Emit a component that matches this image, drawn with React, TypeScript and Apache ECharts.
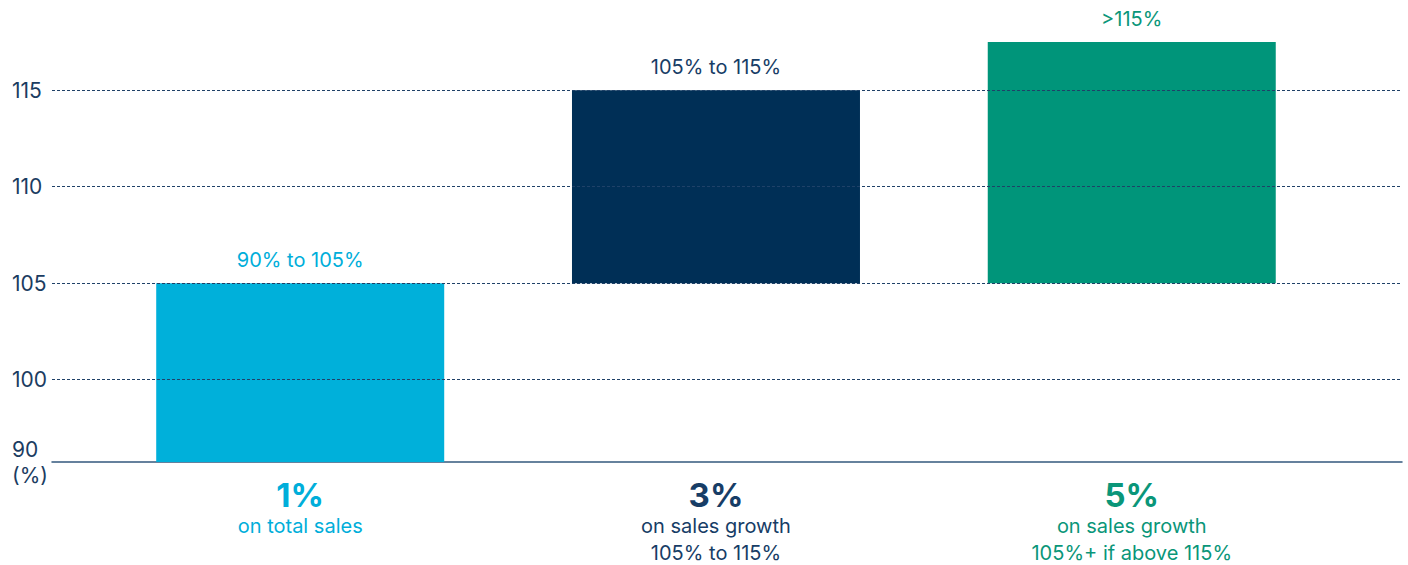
import React, { useEffect, useRef } from "react";
import * as echarts from "echarts";

// ---- data ----
const categories = ["1%", "3%", "5%"];
const categoryNotes = [
  "on total sales",
  "on sales growth\n105% to 115%",
  "on sales growth\n105%+ if above 115%",
];
const rangeLabels = ["90% to 105%", "105% to 115%", ">115%"];
const rangeStart = [90, 105, 105];
const rangeEnd = [105, 115, 117.5];
const yTickValues = [100, 105, 110, 115];
const yBottomLabel = "90";
const yUnitLabel = "(%)";

// ---- styles ----
const barColors = ["#00B0DA", "#002F56", "#00957A"];
const textColors = ["#00AEDA", "#173D66", "#0A9679"];
const axisColor = "#1B3C61";
const FONT = "Inter, 'Noto Sans', sans-serif";
const Y_MIN = 95.73;
const Y_MAX = 119;
const BAR_W = 288;

export default function App() {
  const ref = useRef<HTMLDivElement>(null);

  useEffect(() => {
    document.body.style.margin = "0";
    if (!ref.current) return;
    const chart = echarts.init(ref.current, undefined, { renderer: "svg" });

    const xs = categories.map((_, i) => i);
    const rich: Record<string, any> = {};
    categories.forEach((_, i) => {
      rich["b" + i] = {
        fontFamily: FONT,
        fontSize: 33,
        fontWeight: "bold",
        color: textColors[i],
        lineHeight: 34,
      };
      rich["s" + i] = {
        fontFamily: FONT,
        fontSize: 20,
        color: textColors[i],
        lineHeight: 27,
      };
    });

    chart.setOption({
      animation: false,
      grid: { left: 52, right: 6, top: 13, bottom: 103, containLabel: false },
      xAxis: {
        type: "value",
        min: -0.597,
        max: 2.65,
        splitLine: { show: false },
        axisTick: { show: false },
        axisLine: { show: true, onZero: false, lineStyle: { color: "#33587D", width: 1.5 } },
        axisLabel: {
          customValues: xs,
          margin: 16,
          formatter: (v: number) => {
            const i = Math.round(v);
            const notes = categoryNotes[i].split("\n").map((l) => `{s${i}|${l}}`);
            return [`{b${i}|${categories[i]}}`, ...notes].join("\n");
          },
          rich,
        },
      },
      yAxis: {
        type: "value",
        min: Y_MIN,
        max: Y_MAX,
        splitLine: { show: false },
        axisTick: { show: false },
        axisLine: { show: false, onZero: false },
        axisLabel: {
          customValues: [Y_MIN, ...yTickValues],
          align: "left",
          margin: 40,
          fontFamily: FONT,
          fontSize: 21,
          lineHeight: 26,
          color: axisColor,
          formatter: (v: number) =>
            v < yTickValues[0] ? `${yBottomLabel}\n${yUnitLabel}` : String(v),
        },
      },
      series: [
        {
          type: "custom",
          z: 2,
          data: xs.map((x, i) => [x, rangeStart[i], rangeEnd[i]]),
          renderItem: (params: any, api: any) => {
            const i = params.dataIndex;
            const x = api.value(0);
            const top = api.coord([x, api.value(2)]);
            const bot = api.coord([x, api.value(1)]);
            const cs = params.coordSys;
            const yBottom = Math.min(bot[1], cs.y + cs.height);
            return {
              type: "rect",
              shape: { x: top[0] - BAR_W / 2, y: top[1], width: BAR_W, height: yBottom - top[1] },
              style: { fill: barColors[i] },
              textContent: {
                style: {
                  text: rangeLabels[i],
                  fill: textColors[i],
                  fontSize: 20,
                  fontFamily: FONT,
                },
              },
              textConfig: { position: "top", distance: 13 },
            };
          },
        },
        {
          type: "line",
          z: 5,
          data: [],
          markLine: {
            silent: true,
            symbol: "none",
            label: { show: false },
            lineStyle: { type: [3, 2], color: "#1F4168", width: 1 },
            data: yTickValues.map((v) => ({ yAxis: v })),
          },
        },
      ],
    });

    return () => chart.dispose();
  }, []);

  return <div ref={ref} style={{ width: 1408, height: 565 }} />;
}
